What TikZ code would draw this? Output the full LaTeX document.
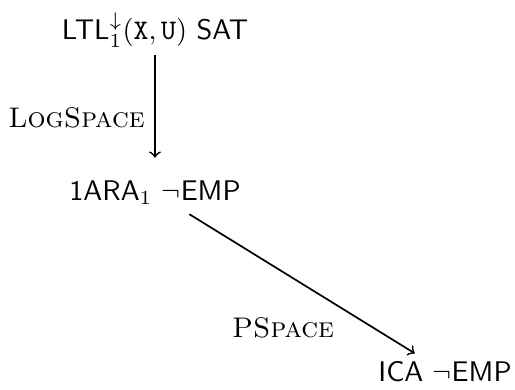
\documentclass[tikz,border=0pt]{standalone}
\usepackage{amsmath,amssymb}
\begin{document}
\begin{tikzpicture}[x=0.3523pt,y=-0.3523pt,
  prob/.style={font=\sffamily, inner sep=2pt},
  lab/.style={font=\rmfamily\scshape, inner sep=1pt},
  arr/.style={->, semithick}]
\useasboundingbox (0,0) rectangle (515,389);
\node[prob] (ltl) at (155,30) {LTL$^{\downarrow}_{1}(\mathtt{X},\mathtt{U})$ SAT};
\node[prob] (ara) at (155,193) {1ARA$_1$ $\neg$EMP};
\node[prob] (ica) at (445,372) {ICA $\neg$EMP};
\draw[arr, shorten <=0.5pt, shorten >=6pt] (ltl) -- (ara);
\draw[arr, shorten <=2pt, shorten >=1.5pt] (ara) -- (ica);
\node[lab, anchor=east] (ls) at (148,118) {LogSpace};
\node[lab] (ps) at (283,328) {PSpace};
\end{tikzpicture}
\end{document}
